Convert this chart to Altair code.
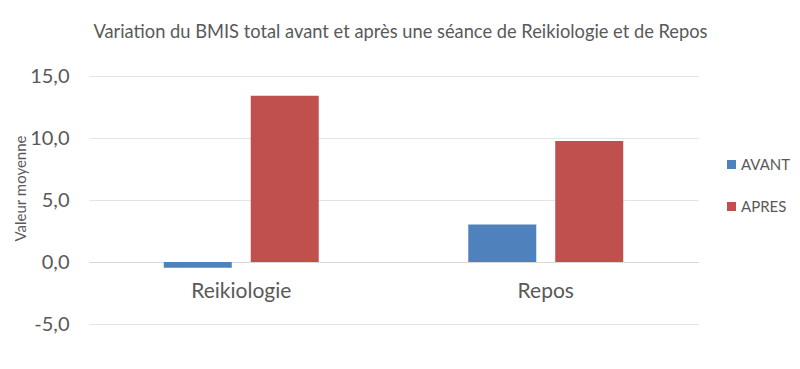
import altair as alt
import pandas as pd

categories = ["Reikiologie", "Reikiologie", "Repos", "Repos"]
series = ["AVANT", "APRES", "AVANT", "APRES"]
values = [-0.46, 13.41, 3.03, 9.76]
y_ticks = [-5, 0, 5, 10, 15]

df = pd.DataFrame({"cat": categories, "serie": series, "val": values})

TXT = "#595959"
FONT = "Lato"

chart = alt.Chart(df).mark_bar().encode(
    x=alt.X("cat:N", sort=["Reikiologie", "Repos"],
            scale=alt.Scale(paddingInner=0.491, paddingOuter=0.2455),
            axis=alt.Axis(title=None, labelAngle=0, offset=-62, ticks=False,
                          domain=True, domainColor="#D9D9D9", labelFontSize=21,
                          labelColor=TXT, labelFont=FONT, labelPadding=18)),
    xOffset=alt.XOffset("serie:N", sort=["AVANT", "APRES"],
                        scale=alt.Scale(paddingInner=0.218, paddingOuter=0)),
    y=alt.Y("val:Q", scale=alt.Scale(domain=[-5, 15], nice=False, zero=False),
            axis=alt.Axis(title="Valeur moyenne", values=y_ticks, ticks=False,
                          domain=False, grid=True, gridColor="#E4E4E4",
                          labelExpr="replace(replace(format(datum.value, '.1f'), '.', ','), '\u2212', '-')",
                          labelFontSize=20, labelColor=TXT, labelFont=FONT,
                          labelPadding=20, titleFontSize=15, titleColor=TXT,
                          titleFont=FONT, titleFontWeight="normal",
                          titleX=-64, titleY=112, titleAlign="center",
                          titleBaseline="alphabetic")),
    color=alt.Color("serie:N", sort=["AVANT", "APRES"],
                    scale=alt.Scale(domain=["AVANT", "APRES"], range=["#4F81BD", "#C0504D"]),
                    legend=alt.Legend(title=None, orient="none", legendX=635, legendY=81,
                                      symbolType="square", symbolSize=81,
                                      symbolStrokeWidth=0, labelFontSize=15,
                                      labelColor=TXT, labelFont=FONT, rowPadding=26,
                                      labelOffset=2)),
).properties(
    width=609,
    height=248,
    autosize=alt.AutoSizeParams(type="none"),
    padding={"left": 81, "top": 68, "right": 94, "bottom": 37},
    background="white",
    title=alt.TitleParams(
        "Variation du BMIS total avant et après une séance de Reikiologie et de Repos",
        fontSize=18.3, font=FONT, color=TXT, fontWeight="normal", offset=24, dx=7),
).configure_view(stroke=None)

chart.save("out.html", embed_options={"renderer": "svg", "actions": False})
